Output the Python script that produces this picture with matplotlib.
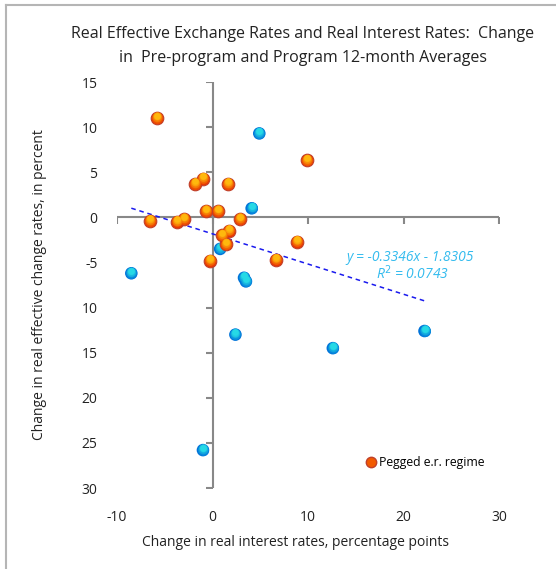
import numpy as np
import matplotlib.pyplot as plt
import matplotlib.transforms as mtransforms
from matplotlib.lines import Line2D

plt.rcParams['font.family'] = ['Open Sans', 'DejaVu Sans']
plt.rcParams['axes.unicode_minus'] = False

# Pegged exchange rate regime (orange)
peg_x = [-5.8, -1.8, -1.0, 1.6, 9.9, -0.7, 0.6, -6.5, -3.7, -3.0, 2.9, 1.0, 1.7, 1.4, -0.3, 6.7, 8.8]
peg_y = [11.0, 3.7, 4.3, 3.7, 6.3, 0.7, 0.7, -0.4, -0.5, -0.2, -0.2, -2.0, -1.5, -3.0, -4.8, -4.7, -2.7]

# Other regimes (blue)
oth_x = [4.9, 4.1, 0.8, -8.5, 3.3, 3.5, 2.4, -1.0, 12.6, 22.2]
oth_y = [9.3, 1.0, -3.5, -6.2, -6.7, -7.1, -13.0, -25.8, -14.5, -12.6]

# linear trend (all points), as reported on the chart
slope, intercept = -0.3346, -1.8305
r2 = 0.0743

xticks = [-10, 0, 10, 20, 30]
yticks = [15, 10, 5, 0, -5, -10, -15, -20, -25, -30]
ytick_labels = ['15', '10', '5', '0', '-5', '10', '15', '20', '25', '30']

fig = plt.figure(figsize=(5.56, 5.69), dpi=100)
ax = fig.add_axes([117/556, 1-488/569, (499-117)/556, (488-82)/569])
ax.set_xlim(-10, 30)
ax.set_ylim(-30, 15)
for s in ax.spines.values():
    s.set_visible(False)
ax.set_xticks(xticks)
ax.set_yticks(yticks)
ax.set_yticklabels(ytick_labels)
ax.tick_params(length=0, labelsize=10, colors='#222222')
ax.tick_params(axis='y', pad=14)
ax.tick_params(axis='x', pad=16)

# axes crossing at zero with outward ticks
axc = '#888888'
ax.plot([-10, 30], [0, 0], color=axc, lw=1.5, zorder=1, solid_capstyle='butt')
ax.plot([0, 0], [-30, 15], color=axc, lw=1.5, zorder=1, solid_capstyle='butt')
ax.plot(xticks, [0]*len(xticks), ls='none', marker=3, ms=5, mew=1.5, color=axc, zorder=1)
ax.plot([0]*len(yticks), yticks, ls='none', marker=0, ms=5, mew=1.5, color=axc, zorder=1)

# trend line over data range
all_x = np.array(peg_x + oth_x)
tx = np.array([all_x.min(), all_x.max()])
ax.plot(tx, slope*tx + intercept, ls=(0, (3, 2.5)), color='#1a1aee', lw=1.1, zorder=2)


def shaded(xs, ys, dark, light, edge, z):
    # fake a vertical gradient by stacking shrinking discs shifted upward
    ax.scatter(xs, ys, s=82, color=dark, edgecolors=edge, linewidths=0.8, zorder=z)
    steps = 6
    for i in range(1, steps + 1):
        f = i / steps
        c = np.array(dark) * (1 - f) + np.array(light) * f
        tr = mtransforms.offset_copy(ax.transData, fig=fig, x=0, y=1.8*f, units='points')
        ax.scatter(xs, ys, s=74*(1 - 0.45*f)**2, color=[c], linewidths=0, zorder=z, transform=tr)


shaded(oth_x, oth_y, (0.0, 0.45, 0.85), (0.15, 0.85, 0.9), 'none', 3)
shaded(peg_x, peg_y, (0.92, 0.22, 0.0), (1.0, 0.72, 0.05), '#c0402a', 4)

ax.text(27.4, -4.4, 'y = -0.3346x - 1.8305', color='#33bbee', fontsize=10,
        style='italic', ha='right', va='center')
ax.text(24.8, -6.3, 'R$^2$ = 0.0743', color='#33bbee', fontsize=10,
        style='italic', ha='right', va='center')

leg_h = Line2D([], [], ls='none', marker='o', ms=7.5, color='#f25a00', mec='#c0402a')
ax.legend([leg_h], ['Pegged e.r. regime'], loc='lower right', bbox_to_anchor=(0.975, 0.035),
          frameon=False, fontsize=8.8, handletextpad=0.0, handlelength=1.4, borderaxespad=0)

fig.text(303/556, 1-34/569, 'Real Effective Exchange Rates and Real Interest Rates:  Change',
         ha='center', va='center', fontsize=11.5, color='#222222')
fig.text(303/556, 1-58/569, 'in  Pre-program and Program 12-month Averages',
         ha='center', va='center', fontsize=11.5, color='#222222')
fig.text(295/556, 1-543/569, 'Change in real interest rates, percentage points',
         ha='center', va='center', fontsize=10, color='#222222')
fig.text(40/556, 1-285/569, 'Change in real effective change rates, in percent',
         ha='center', va='center', rotation=90, fontsize=10, color='#222222')

# outer frame (only the top and left edges are visible)
fig.add_artist(Line2D([6/556, 6/556], [0, 1-5/569], transform=fig.transFigure, color='#b5b5b5', lw=1.5))
fig.add_artist(Line2D([6/556, 1], [1-5/569, 1-5/569], transform=fig.transFigure, color='#b5b5b5', lw=1.5))

fig.savefig('out.png', dpi=100)
